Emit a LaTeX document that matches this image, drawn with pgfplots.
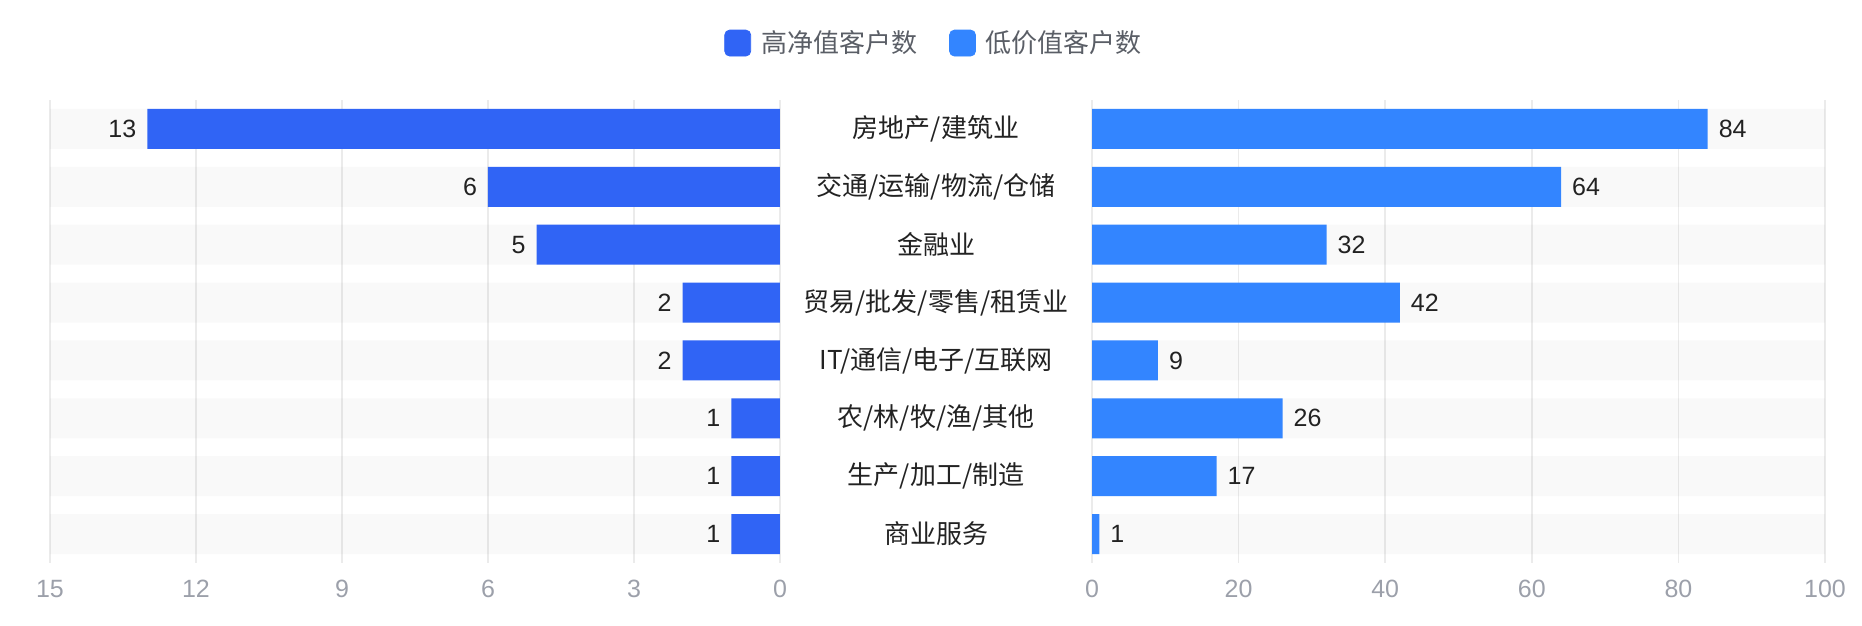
\documentclass[border=0pt]{standalone}
\usepackage{fontspec}
\setmainfont{Liberation Sans}
\newfontfamily\cjk{Noto Sans CJK SC}
\usepackage{pgfplots}
\usepackage{pgfplotstable}
\pgfplotsset{compat=1.18}

\definecolor{hiblue}{HTML}{3064F5}
\definecolor{loblue}{HTML}{3385FF}
\definecolor{labeltxt}{HTML}{222222}
\definecolor{ticktxt}{HTML}{9CA0AA}
\definecolor{legtxt}{HTML}{5A5E66}
\definecolor{gridc}{HTML}{EBEBEB}

% row 0 = top category
\pgfplotstableread{
row hi lo bandl bandr
0 13 84 15 100
1 6 64 15 100
2 5 32 15 100
3 2 42 15 100
4 2 9 15 100
5 1 26 15 100
6 1 17 15 100
7 1 1 15 100
}\data

\pgfplotsset{
  halfbar/.style={
    scale only axis, height=231.5pt, anchor=south west,
    xbar, bar width=20pt, bar shift=0pt,
    ymin=-0.5, ymax=7.5, y dir=reverse,
    axis line style={draw=none},
    major tick length=0pt,
    xmajorgrids, grid style={gridc, line width=0.8pt},
    /pgf/number format/assume math mode=true,
    xticklabel style={font=\fontsize{12.5}{14}\selectfont, text=ticktxt, yshift=-5pt},
    every node near coord/.append style={font=\fontsize{12.5}{14}\selectfont, text=labeltxt},
  }
}

\begin{document}
\begin{tikzpicture}
\path[use as bounding box] (0,0) rectangle (931pt,313pt);

% left half: high net worth
\begin{axis}[halfbar,
    at={(25pt,31.5pt)}, width=365pt,
    xmin=0, xmax=15, x dir=reverse,
    xtick={0,3,...,15}, ytick=\empty,
]
\addplot[fill=black, fill opacity=0.025, draw=none, forget plot] table[x=bandl, y=row]{\data};
\addplot[fill=hiblue, draw=none, forget plot, nodes near coords,
    every node near coord/.append style={anchor=east, xshift=-2pt}]
    table[x=hi, y=row]{\data};
\end{axis}

% right half: low value
\begin{axis}[halfbar,
    at={(546pt,31.5pt)}, width=366.5pt,
    xmin=0, xmax=100,
    xtick={0,20,...,100},
    ytick={0,...,7},
    yticklabels={房地产/建筑业, 交通/运输/物流/仓储, 金融业, 贸易/批发/零售/租赁业,
      IT/通信/电子/互联网, 农/林/牧/渔/其他, 生产/加工/制造, 商业服务},
    yticklabel style={anchor=center, xshift=-78pt, font=\cjk\fontsize{13}{15}\selectfont, text=labeltxt},
    legend style={at={(-0.214,1.123)}, anchor=center, draw=none, fill=none,
      legend columns=2, font=\cjk\fontsize{13}{15}\selectfont, text=legtxt,
      /tikz/every odd column/.append style={column sep=3pt},
      /tikz/every even column/.append style={column sep=14pt}},
    legend cell align=left,
]
\addplot[fill=black, fill opacity=0.025, draw=none, forget plot] table[x=bandr, y=row]{\data};
\addplot[fill=loblue, draw=none, forget plot, nodes near coords,
    every node near coord/.append style={anchor=west, xshift=2pt}]
    table[x=lo, y=row]{\data};
\addlegendimage{legend image code/.code={\fill[hiblue, rounded corners=2.5pt] (0pt,-6.5pt) rectangle (13pt,6.5pt);}}
\addlegendentry{高净值客户数}
\addlegendimage{legend image code/.code={\fill[loblue, rounded corners=2.5pt] (0pt,-6.5pt) rectangle (13pt,6.5pt);}}
\addlegendentry{低价值客户数}
\end{axis}
\end{tikzpicture}
\end{document}
